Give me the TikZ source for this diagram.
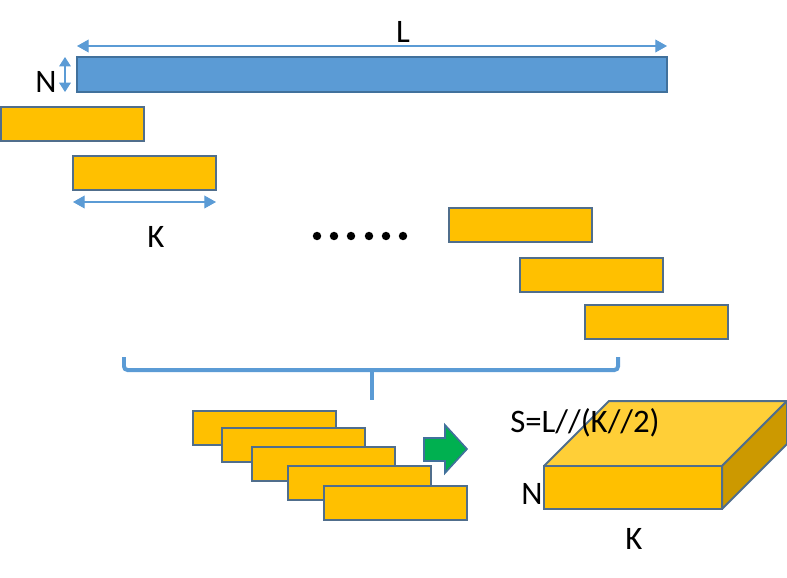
\documentclass[tikz,border=0pt]{standalone}
\usepackage{fontspec}
\setmainfont{Carlito}
\usetikzlibrary{arrows.meta}
\definecolor{barblue}{RGB}{91,155,213}
\definecolor{edgeblue}{RGB}{65,113,156}
\definecolor{barorange}{RGB}{255,192,0}
\definecolor{edgeslate}{RGB}{80,110,140}
\definecolor{boxtop}{RGB}{255,207,55}
\definecolor{boxside}{RGB}{204,153,0}
\definecolor{arrowgreen}{RGB}{0,176,80}
\tikzset{
	window/.style={draw=edgeslate, line width=1.7pt, fill=barorange},
	dimline/.style={draw=barblue, line width=0.9pt, {Triangle[length=10pt,width=11pt]}-{Triangle[length=10pt,width=11pt]}, color=barblue},
	dimtext/.style={font=\fontsize{28}{32}\selectfont, inner sep=0pt}
}

\begin{document}
\begin{tikzpicture}[x=0.03cm, y=-0.03cm]
		\useasboundingbox (0,0) rectangle (787,577);
		%%%%% START %%%%%
		
		% the long sequence
		\draw[fill=barblue, draw=edgeblue, line width=1.7pt] (77,57) rectangle (667,92);
		\coordinate (lstart) at (77,46);
		\coordinate (lend) at (667,46);
		\draw[dimline] (lstart) -- (lend);
		\node[dimtext] (ltext) at (403,32) {L};
		
		\coordinate (ntop) at (65,57);
		\coordinate (nbot) at (65,92);
		\draw[dimline, {Triangle[length=8pt,width=10pt]}-{Triangle[length=8pt,width=10pt]}] (ntop) -- (nbot);
		\node[dimtext] (ntext) at (46,82) {N};
		
		% sliding windows
		\draw[window] (1,107) rectangle (144,141);
		\draw[window] (73,156) rectangle (216,190);
		\coordinate (kstart) at (73,202);
		\coordinate (kend) at (216,202);
		\draw[dimline] (kstart) -- (kend);
		\node[dimtext] (ktext) at (156,237) {K};
		
		\foreach \x in {317,334,351,369,386,403}
			\fill (\x,236) circle (3.6pt);
		
		\draw[window] (449,208) rectangle (592,242);
		\draw[window] (520,258) rectangle (663,292);
		\draw[window] (585,305) rectangle (728,339);
		
		% brace
		\draw[barblue, line width=3.4pt, rounded corners=3pt] (124,357) -- (124,370) -- (618,370) -- (618,357);
		\draw[barblue, line width=3.4pt] (372,370) -- (372,400);
		
		% stacked windows
		\foreach \x/\y in {193/411, 222/428, 252/447, 288/466, 324/486}
			\draw[window] (\x,\y) rectangle ++(143,34);
		
		% green arrow
		\draw[fill=arrowgreen, draw=edgeblue, line width=1.4pt] (424,438) -- (445,438) -- (445,425) -- (467,449) -- (445,473) -- (445,461) -- (424,461) -- cycle;
		
		% output block
		\draw[fill=boxtop, draw=edgeslate, line width=1.7pt, line join=round] (544,466) -- (609,401) -- (787,401) -- (722,466) -- cycle;
		\draw[fill=boxside, draw=edgeslate, line width=1.7pt, line join=round] (722,466) -- (787,401) -- (787,444) -- (722,509) -- cycle;
		\draw[window] (544,466) rectangle (722,509);
		
		\node[dimtext] (stext) at (585,423) {S=L//(K//2)};
		\node[dimtext] (nbox) at (532,494) {N};
		\node[dimtext] (kbox) at (634,539) {K};
		
		%%%%% END %%%%%
\end{tikzpicture}
\end{document}
